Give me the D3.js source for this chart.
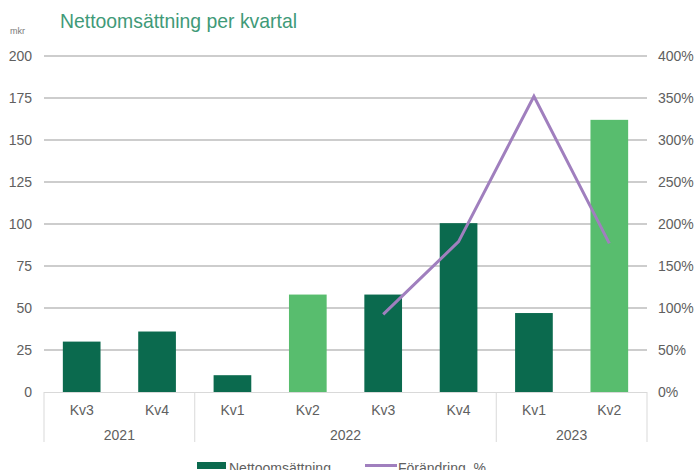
<!DOCTYPE html>
<html><head><meta charset="utf-8">
<script src="https://cdn.jsdelivr.net/npm/d3@7"></script>
<style>
html,body{margin:0;padding:0;background:#fff;}
svg{display:block;font-family:"Liberation Sans",Arial,sans-serif;}
</style></head>
<body><svg id="c" width="694" height="470"></svg>
<script>
const quarters = ["Kv3","Kv4","Kv1","Kv2","Kv3","Kv4","Kv1","Kv2"];
const years = ["2021","2021","2022","2022","2022","2022","2023","2023"];
const netSales = [30, 36, 10, 58, 58, 100.5, 47, 162];
const highlight = [false,false,false,true,false,false,false,true];
const changePct = [null,null,null,null,92.5,179,352,177];
const leftTicks = [0,25,50,75,100,125,150,175,200];
const rightTicks = [0,50,100,150,200,250,300,350,400];
const yearGroups = ["2021","2022","2023"];

const svg = d3.select("#c");
const L = 44, R = 647, T = 56, B = 392;
const idx = d3.range(quarters.length);
const x = d3.scaleBand().domain(idx).range([L,R]).paddingInner(0.5).paddingOuter(0.25);
const y = d3.scaleLinear().domain([0,200]).range([B,T]);
const y2 = d3.scaleLinear().domain([0,400]).range([B,T]);

// title
svg.append("text").attr("x",60).attr("y",28).attr("fill","#3f9a78")
  .attr("font-size",21).attr("textLength",237).attr("lengthAdjust","spacingAndGlyphs")
  .text("Nettoomsättning per kvartal");
svg.append("text").attr("x",10).attr("y",34).attr("fill","#7a7a7a").attr("font-size",9).text("mkr");

// gridlines
svg.append("g").selectAll("line").data(leftTicks.filter(d=>d>0)).join("line")
  .attr("x1",L).attr("x2",R).attr("y1",d=>y(d)).attr("y2",d=>y(d))
  .attr("stroke","#bdbdbd").attr("stroke-width",1.5);

// left axis
const la = svg.append("g").attr("transform",`translate(${L-12},0)`)
  .call(d3.axisLeft(y).tickValues(leftTicks).tickSize(0).tickPadding(0));
la.select(".domain").remove();
la.selectAll("text").attr("font-size",14).attr("fill","#606060").attr("font-family","Liberation Sans, Arial").attr("dy","0.35em");

// right axis
const ra = svg.append("g").attr("transform",`translate(${R+11},0)`)
  .call(d3.axisRight(y2).tickValues(rightTicks).tickSize(0).tickPadding(0).tickFormat(d=>d+"%"));
ra.select(".domain").remove();
ra.selectAll("text").attr("font-size",14).attr("fill","#606060").attr("font-family","Liberation Sans, Arial").attr("dy","0.35em");

// bars
svg.append("g").selectAll("rect").data(idx).join("rect")
  .attr("x",i=>x(i)).attr("width",x.bandwidth())
  .attr("y",i=>y(netSales[i])).attr("height",i=>B-y(netSales[i]))
  .attr("fill",i=>highlight[i]?"#58bd6e":"#0b6a4e");

// baseline
svg.append("line").attr("x1",L).attr("x2",R).attr("y1",B+0.5).attr("y2",B+0.5)
  .attr("stroke","#d9d9d9").attr("stroke-width",1);

// category axis separators
const step = x.step();
const groupBounds = [];
yearGroups.forEach(yr=>{
  const ids = idx.filter(i=>years[i]===yr);
  groupBounds.push({yr, a: x(ids[0]) - x.bandwidth()/2, b: x(ids[ids.length-1]) + x.bandwidth()*1.5});
});
const seps = [groupBounds[0].a, ...groupBounds.map(g=>g.b)];
svg.append("g").selectAll("line").data(seps).join("line")
  .attr("x1",d=>d).attr("x2",d=>d).attr("y1",B).attr("y2",442)
  .attr("stroke","#d9d9d9").attr("stroke-width",1);

svg.append("g").selectAll("text").data(idx).join("text")
  .attr("x",i=>x(i)+x.bandwidth()/2).attr("y",415).attr("text-anchor","middle")
  .attr("font-size",14).attr("fill","#606060").text(i=>quarters[i]);
svg.append("g").selectAll("text").data(groupBounds).join("text")
  .attr("x",g=>(g.a+g.b)/2).attr("y",440).attr("text-anchor","middle")
  .attr("font-size",14).attr("fill","#606060").text(g=>g.yr);

// line
const pts = idx.filter(i=>changePct[i]!==null);
svg.append("path").datum(pts)
  .attr("d",d3.line().x(i=>x(i)+x.bandwidth()/2).y(i=>y2(changePct[i])))
  .attr("fill","none").attr("stroke","#a07fbe").attr("stroke-width",3);

// legend
svg.append("rect").attr("x",197).attr("y",462).attr("width",29).attr("height",7).attr("fill","#0b6a4e");
svg.append("text").attr("x",229).attr("y",473).attr("font-size",14).attr("fill","#606060").text("Nettoomsättning");
svg.append("line").attr("x1",365).attr("x2",397).attr("y1",465.5).attr("y2",465.5).attr("stroke","#a07fbe").attr("stroke-width",3);
svg.append("text").attr("x",398).attr("y",473).attr("font-size",14).attr("fill","#606060").text("Förändring, %");
</script></body></html>
